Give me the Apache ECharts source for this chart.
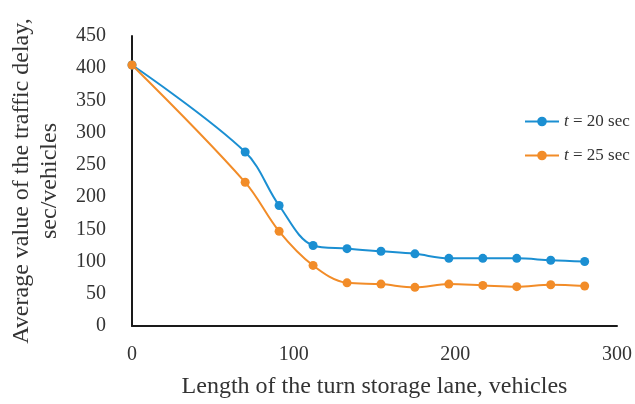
<!DOCTYPE html>
<html>
<head>
<meta charset="utf-8">
<script src="https://cdn.jsdelivr.net/npm/echarts@6/dist/echarts.min.js"></script>
<style>
  html, body { margin: 0; padding: 0; background: #fff; }
  #chart { width: 635px; height: 404px; }
</style>
</head>
<body>
<div id="chart"></div>
<script>
// Turn storage lane length (vehicles) vs. average traffic delay (sec/vehicle)
var laneLength = [0, 70, 91, 112, 133, 154, 175, 196, 217, 238, 259, 280];
var delay20 = [405, 270, 187, 125, 120, 116, 112, 105, 105, 105, 102, 100];
var delay25 = [405, 223, 147, 94, 67, 65, 60, 65, 63, 61, 64, 62];
var yTicks = [0, 50, 100, 150, 200, 250, 300, 350, 400, 450];
var xTicks = [0, 100, 200, 300];

var serif = '"Liberation Serif", "DejaVu Serif", serif';
var textColor = '#333333';
var blue = '#1B8FD2';
var orange = '#F28C28';

function pairs(xs, ys) {
  return xs.map(function (x, i) { return [x, ys[i]]; });
}

var chart = echarts.init(document.getElementById('chart'));
chart.setOption({
  animation: false,
  backgroundColor: '#ffffff',
  grid: { left: 130, right: 16, top: 36, bottom: 78 },
  legend: {
    orient: 'vertical',
    left: 519,
    top: 108,
    itemWidth: 34,
    itemHeight: 12,
    itemGap: 17,
    data: ['t20', 't25'],
    formatter: function (name) {
      return name === 't20' ? '{i|t} = 20 sec' : '{i|t} = 25 sec';
    },
    textStyle: {
      fontFamily: serif,
      fontSize: 17,
      color: textColor,
      rich: {
        i: { fontFamily: serif, fontStyle: 'italic', fontSize: 17, color: textColor }
      }
    }
  },
  xAxis: {
    type: 'value',
    min: 0,
    max: 300,
    interval: 100,
    name: 'Length of the turn storage lane, vehicles',
    nameLocation: 'middle',
    nameGap: 49,
    nameTextStyle: { fontFamily: serif, fontSize: 24, color: textColor },
    axisLine: { show: true, lineStyle: { color: '#1a1a1a', width: 2 } },
    axisTick: { show: false },
    splitLine: { show: false },
    axisLabel: {
      fontFamily: serif, fontSize: 20, color: textColor, margin: 19,
      customValues: xTicks
    }
  },
  yAxis: {
    type: 'value',
    min: 0,
    max: 450,
    interval: 50,
    name: 'Average value of the traffic delay,\nsec/vehicles',
    nameLocation: 'middle',
    nameGap: 68,
    nameRotate: 90,
    nameTextStyle: { fontFamily: serif, fontSize: 24, color: textColor, lineHeight: 28 },
    axisLine: { show: true, lineStyle: { color: '#1a1a1a', width: 2 } },
    axisTick: { show: false },
    splitLine: { show: false },
    axisLabel: {
      fontFamily: serif, fontSize: 20, color: textColor, margin: 26,
      customValues: yTicks
    }
  },
  series: [
    {
      name: 't20',
      type: 'line',
      smooth: 0.35,
      data: pairs(laneLength, delay20),
      symbol: 'circle',
      symbolSize: 9,
      lineStyle: { color: blue, width: 2 },
      itemStyle: { color: blue }
    },
    {
      name: 't25',
      type: 'line',
      smooth: 0.35,
      data: pairs(laneLength, delay25),
      symbol: 'circle',
      symbolSize: 9,
      lineStyle: { color: orange, width: 2 },
      itemStyle: { color: orange }
    }
  ]
});
</script>
</body>
</html>
